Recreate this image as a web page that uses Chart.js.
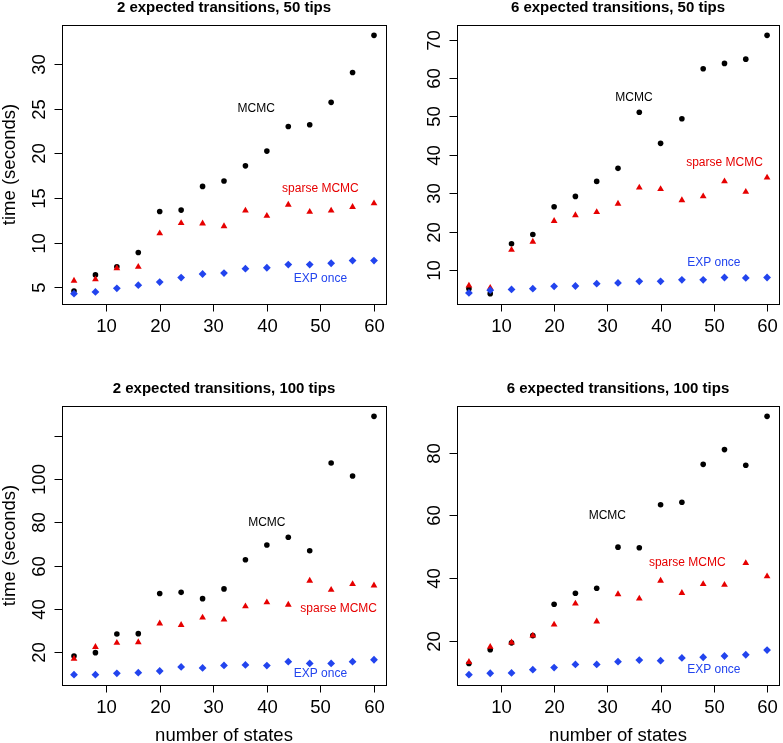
<!DOCTYPE html>
<html>

<head>
  <title>timing</title>
  <style>
    body { margin: 0; background: #fff; }
    canvas { position: absolute; }
  </style>
</head>

<body>
  <canvas id="c1" width="392" height="370" style="left:0;top:0"></canvas>
  <canvas id="c2" width="391" height="370" style="left:392px;top:0"></canvas>
  <canvas id="c3" width="392" height="373" style="left:0;top:370px"></canvas>
  <canvas id="c4" width="391" height="373" style="left:392px;top:370px"></canvas>
  <script src="https://cdn.jsdelivr.net/npm/chart.js"></script>
  <script>
    // number of states (x) shared by all four panels
    const states = [4, 8, 12, 16, 20, 24, 28, 32, 36, 40, 44, 48, 52, 56, 60];
    const xTicks = [10, 20, 30, 40, 50, 60];

    // 2 expected transitions, 50 tips
    const mcmc_2_50 = [4.6, 6.4, 7.3, 8.9, 13.5, 13.65, 16.3, 16.9, 18.6, 20.25, 23.0, 23.2, 25.7, 29.05, 33.2];
    const sparse_2_50 = [5.75, 5.9, 7.15, 7.3, 11.05, 12.2, 12.15, 11.85, 13.6, 13.0, 14.25, 13.45, 13.6, 14.0, 14.4];
    const exp_2_50 = [4.3, 4.5, 4.9, 5.25, 5.6, 6.1, 6.5, 6.6, 7.1, 7.2, 7.55, 7.55, 7.7, 8.0, 8.0];
    const yTicks_2_50 = [5, 10, 15, 20, 25, 30];

    // 6 expected transitions, 50 tips
    const mcmc_6_50 = [5.2, 3.9, 16.9, 19.3, 26.5, 29.2, 33.1, 36.5, 51.1, 43.0, 49.4, 62.4, 63.8, 64.9, 71.1];
    const sparse_6_50 = [6.0, 5.4, 15.3, 17.4, 22.8, 24.3, 25.1, 27.3, 31.5, 31.1, 28.2, 29.2, 33.1, 30.4, 34.1];
    const exp_6_50 = [4.1, 4.8, 5.0, 5.2, 5.8, 5.9, 6.5, 6.7, 7.1, 7.1, 7.5, 7.5, 8.1, 8.0, 8.1];
    const yTicks_6_50 = [10, 20, 30, 40, 50, 60, 70];

    // 2 expected transitions, 100 tips
    const mcmc_2_100 = [18.1, 19.7, 28.3, 28.5, 47.1, 47.6, 44.7, 49.2, 62.7, 69.5, 73.1, 66.9, 107.5, 101.5, 129.1];
    const sparse_2_100 = [16.9, 22.3, 24.2, 24.5, 33.2, 32.5, 35.9, 35.0, 41.1, 43.0, 41.9, 53.0, 48.8, 51.4, 50.8];
    const exp_2_100 = [9.5, 9.5, 10.1, 10.4, 11.2, 13.1, 12.6, 13.8, 14.0, 13.7, 15.5, 14.7, 14.7, 15.5, 16.4];
    const yTicks_2_100 = [20, 40, 60, 80, 100, 120];

    // 6 expected transitions, 100 tips
    const mcmc_6_100 = [12.8, 17.2, 19.4, 21.7, 31.7, 35.2, 36.8, 49.9, 49.7, 63.4, 64.2, 76.3, 81.0, 76.0, 91.6];
    const sparse_6_100 = [13.3, 18.1, 19.5, 21.7, 25.2, 31.9, 26.2, 34.9, 33.5, 39.2, 35.3, 38.1, 37.9, 44.8, 40.6];
    const exp_6_100 = [9.25, 9.7, 9.8, 10.85, 11.5, 12.5, 12.5, 13.4, 13.9, 13.7, 14.6, 14.8, 15.2, 15.6, 17.1];
    const yTicks_6_100 = [20, 40, 60, 80];

    const RED = '#e60000';
    const BLUE = '#2244ee';
    const FONT = '"Liberation Sans", Arial, Helvetica, sans-serif';

    const panels = [
      {
        id: 'c1', title: '2 expected transitions, 50 tips',
        mcmc: mcmc_2_50, sparse: sparse_2_50, exp: exp_2_50, yTicks: yTicks_2_50,
        pad: { left: 62, right: 6, top: 25, bottom: 66 }, ylab: true, xlab: false,
        notes: [[38, 25, 'MCMC'], [50, 16, 'sparse MCMC'], [50, 6, 'EXP once']]
      },
      {
        id: 'c2', title: '6 expected transitions, 50 tips',
        mcmc: mcmc_6_50, sparse: sparse_6_50, exp: exp_6_50, yTicks: yTicks_6_50,
        pad: { left: 65, right: 2, top: 25, bottom: 66 }, ylab: false, xlab: false,
        notes: [[35, 55, 'MCMC'], [52, 38, 'sparse MCMC'], [50, 12, 'EXP once']]
      },
      {
        id: 'c3', title: '2 expected transitions, 100 tips',
        mcmc: mcmc_2_100, sparse: sparse_2_100, exp: exp_2_100, yTicks: yTicks_2_100,
        pad: { left: 62, right: 6, top: 36, bottom: 58 }, ylab: true, xlab: true,
        noLabel: [120],
        notes: [[40, 80, 'MCMC'], [53.4, 40, 'sparse MCMC'], [50, 10, 'EXP once']]
      },
      {
        id: 'c4', title: '6 expected transitions, 100 tips',
        mcmc: mcmc_6_100, sparse: sparse_6_100, exp: exp_6_100, yTicks: yTicks_6_100,
        pad: { left: 65, right: 2, top: 36, bottom: 58 }, ylab: false, xlab: true,
        notes: [[30, 60, 'MCMC'], [45, 45, 'sparse MCMC'], [50, 10.8, 'EXP once']]
      }
    ];

    function pts(ys) {
      return states.map((x, i) => ({ x: x, y: ys[i] }));
    }

    // R-style frame, ticks and labels drawn on top of the chart
    const rAxes = {
      id: 'rAxes',
      afterDraw(chart, args, opts) {
        const p = opts.panel;
        const ctx = chart.ctx;
        const a = chart.chartArea;
        const sx = chart.scales.x, sy = chart.scales.y;
        ctx.save();
        ctx.strokeStyle = '#000';
        ctx.fillStyle = '#000';
        ctx.lineWidth = 1;
        ctx.strokeRect(Math.round(a.left) + 0.5, Math.round(a.top) + 0.5,
          Math.round(a.right - a.left), Math.round(a.bottom - a.top));

        ctx.font = '18.5px ' + FONT;
        ctx.textAlign = 'center';
        ctx.textBaseline = 'alphabetic';
        xTicks.forEach(t => {
          const x = Math.round(sx.getPixelForValue(t)) + 0.5;
          ctx.beginPath();
          ctx.moveTo(x, a.bottom);
          ctx.lineTo(x, a.bottom + 7.5);
          ctx.stroke();
          ctx.fillText(String(t), x, a.bottom + 27.5);
        });
        p.yTicks.forEach(t => {
          const y = Math.round(sy.getPixelForValue(t)) + 0.5;
          ctx.beginPath();
          ctx.moveTo(a.left, y);
          ctx.lineTo(a.left - 7.5, y);
          ctx.stroke();
          if (p.noLabel && p.noLabel.includes(t)) return;
          ctx.save();
          ctx.translate(a.left - 17, y);
          ctx.rotate(-Math.PI / 2);
          ctx.fillText(String(t), 0, 0);
          ctx.restore();
        });

        if (p.ylab) {
          ctx.save();
          ctx.translate(15, (a.top + a.bottom) / 2);
          ctx.rotate(-Math.PI / 2);
          ctx.fillText('time (seconds)', 0, 0);
          ctx.restore();
        }
        if (p.xlab) {
          ctx.fillText('number of states', (a.left + a.right) / 2, a.bottom + 56);
        }

        ctx.font = 'bold 15px ' + FONT;
        ctx.fillText(p.title, (a.left + a.right) / 2, a.top - 13);

        ctx.font = '12px ' + FONT;
        ctx.textBaseline = 'middle';
        const cols = [p.mcmcCol || '#000', RED, BLUE];
        p.notes.forEach((n, i) => {
          ctx.fillStyle = cols[i];
          ctx.fillText(n[2], sx.getPixelForValue(n[0]), sy.getPixelForValue(n[1]));
        });
        ctx.restore();
      }
    };

    panels.forEach(p => {
      const all = p.mcmc.concat(p.sparse, p.exp);
      const lo = Math.min(...all), hi = Math.max(...all);
      const d = (hi - lo) * 0.04;
      new Chart(document.getElementById(p.id), {
        type: 'scatter',
        data: {
          datasets: [
            { data: pts(p.mcmc), pointStyle: 'circle', pointRadius: 2.8, backgroundColor: '#000', borderWidth: 0, order: 3 },
            { data: pts(p.sparse), pointStyle: 'triangle', pointRadius: 3.9, backgroundColor: RED, borderWidth: 0, order: 2 },
            { data: pts(p.exp), pointStyle: 'rectRot', pointRadius: 3.9, backgroundColor: BLUE, borderWidth: 0, order: 1 }
          ]
        },
        options: {
          responsive: false,
          animation: false,
          events: [],
          layout: { padding: p.pad },
          clip: false,
          scales: {
            x: { type: 'linear', display: false, min: 4 - 56 * 0.04, max: 60 + 56 * 0.04 },
            y: { type: 'linear', display: false, min: lo - d, max: hi + d }
          },
          plugins: {
            legend: { display: false },
            tooltip: { enabled: false },
            rAxes: { panel: p }
          }
        },
        plugins: [rAxes]
      });
    });
  </script>
</body>

</html>
